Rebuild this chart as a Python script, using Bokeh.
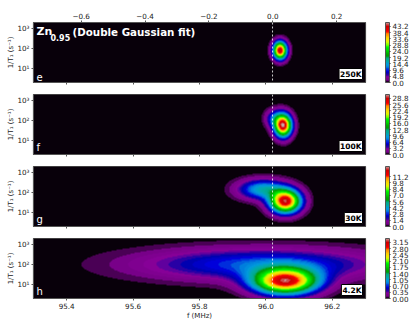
import numpy as np
from bokeh.embed import file_html
from bokeh.resources import INLINE
from bokeh.layouts import column
from bokeh.models import (AllLabels, ColorBar, FixedTicker, Label, LinearAxis, LinearColorMapper,
                          PrintfTickFormatter, Range1d, Span)
from bokeh.plotting import figure

# Values
panel_letters = ["e", "f", "g", "h"]
temperatures = ["250K", "100K", "30K", "4.2K"]
# colour-bar tick step of each panel and its number format
cbar_steps = [4.8, 3.2, 1.4, 0.35]
cbar_counts = [10, 10, 9, 10]
cbar_formats = ["%.1f", "%.1f", "%.1f", "%.2f"]
# double Gaussian components: amplitude, f centre (MHz), log10(1/T1) centre, f width, log10 width
comp_main = [
    (44.0, 96.043, 1.90, 0.0138, 0.296),
    (30.0, 96.052, 1.75, 0.0175, 0.380),
    (12.7, 96.059, 1.55, 0.0310, 0.390),
    (3.05, 96.059, 1.15, 0.0660, 0.440),
]
comp_second = [
    (0.0, 96.043, 1.90, 0.0138, 0.296),
    (6.0, 96.025, 2.10, 0.0180, 0.300),
    (4.5, 95.990, 2.15, 0.0490, 0.340),
    (0.80, 95.985, 2.00, 0.2450, 0.550),
]
x_ticks = [95.4, 95.6, 95.8, 96.0, 96.2]
x_tick_labels = {95.4: "95.4", 95.6: "95.6", 95.8: "95.8", 96.0: "96.0", 96.2: "96.2"}
k_ticks = [-0.6, -0.4, -0.2, 0.0, 0.2]
k_tick_labels = {-0.6: "−0.6", -0.4: "−0.4", -0.2: "−0.2", 0.0: "0.0", 0.2: "0.2"}
y_ticks = [10, 100, 1000]
y_tick_labels = {10: "10¹", 100: "10²", 1000: "10³"}
dotted_f = 96.02

ANCH = [(0,0,0),(.4667,0,.5333),(.5333,0,.6),(0,0,.6667),(0,0,.8667),(0,.4667,.8667),(0,.6,.8667),
        (0,.6667,.6667),(0,.6667,.5333),(0,.6,0),(0,.7333,0),(0,.8667,0),(0,1,0),(.7333,1,0),
        (.9333,.9333,0),(1,.8,0),(1,.6,0),(1,0,0),(.8667,0,0),(.8,0,0),(.8,.8,.8)]

def spectral(n):
    a = np.array(ANCH)
    t = (np.arange(n) + 0.5) / n
    pos = np.linspace(0, 1, len(ANCH))
    rgb = np.stack([np.interp(t, pos, a[:, i]) for i in range(3)], axis=1)
    return ["#%02x%02x%02x" % tuple(int(round(c * 255)) for c in row) for row in rgb]

N_LEV = 48
PAL = spectral(N_LEV)
PAL[0] = "#08000a"
FX = np.linspace(95.3, 96.3, 996)
FY = np.linspace(np.log10(2), np.log10(2000), 240)
XX, YY = np.meshgrid(FX, FY)

def gauss(c):
    a, x0, y0, sx, sy = c
    return a * np.exp(-((XX - x0) ** 2) / (2 * sx ** 2) - ((YY - y0) ** 2) / (2 * sy ** 2))

TXT = "7.2px"
GREY = "#555555"
tops = [22, 6, 6, 6]
bottoms = [6, 6, 6, 24]
figs = []
for i in range(4):
    last = i == 3
    p = figure(output_backend="svg", toolbar_location=None, y_axis_type="log",
               x_range=Range1d(95.3, 96.3), y_range=Range1d(2, 2000),
               frame_width=332, frame_height=60, width=415, height=60 + tops[i] + bottoms[i],
               min_border_left=33, min_border_right=50, min_border_top=tops[i], min_border_bottom=bottoms[i],
               background_fill_color="black", outline_line_color=GREY, outline_line_width=1.2,
               border_fill_color="white")
    p.grid.visible = False
    p.xaxis.ticker = FixedTicker(ticks=x_ticks)
    p.yaxis.ticker = FixedTicker(ticks=y_ticks)
    p.yaxis.major_label_overrides = y_tick_labels
    p.yaxis.major_label_policy = AllLabels()
    p.yaxis.axis_label = "1/T₁ (s⁻¹)"
    p.yaxis.axis_label_text_font_size = "7px"
    p.yaxis.axis_label_text_font_style = "normal"
    p.yaxis.axis_label_text_color = "#222222"
    p.yaxis.axis_label_standoff = -1
    for ax in (p.xaxis[0], p.yaxis[0]):
        ax.major_label_text_font = "DejaVu Sans"
        ax.axis_label_text_font = "DejaVu Sans"
        ax.major_label_text_font_size = TXT
        ax.major_label_text_color = "#222222"
        ax.major_label_standoff = 2
        ax.major_tick_out = 2
        ax.major_tick_in = 0
        ax.minor_tick_out = 0
        ax.minor_tick_in = 0
        ax.major_tick_line_color = GREY
        ax.axis_line_color = GREY
    if last:
        p.xaxis.major_label_overrides = x_tick_labels
        p.xaxis.axis_label = "f (MHz)"
        p.xaxis.axis_label_text_font_size = "7px"
        p.xaxis.axis_label_text_font_style = "normal"
        p.xaxis.axis_label_text_color = "#222222"
        p.xaxis.axis_label_standoff = 0
    else:
        p.xaxis.major_label_overrides = {t: "" for t in x_ticks}
        p.xaxis.major_label_text_font_size = "1px"
        p.xaxis.major_label_standoff = 0

    step = cbar_steps[i] / 5
    Z = gauss(comp_main[i]) + gauss(comp_second[i])
    mapper = LinearColorMapper(palette=PAL, low=0, high=step * N_LEV, high_color=PAL[-1], low_color=PAL[0])
    p.image(image=[Z], x=95.3, y=2, dw=1.0, dh=1998, color_mapper=mapper)
    p.add_layout(Span(location=dotted_f, dimension="height", line_color="white",
                      line_dash="2 2", line_width=1, line_alpha=0.8))
    p.add_layout(Label(x=3, y=2, x_units="screen", y_units="screen", text=panel_letters[i],
                       text_color="white", text_font="DejaVu Sans", text_font_size="10px"))
    p.add_layout(Label(x=329, y=3, x_units="screen", y_units="screen", text=temperatures[i],
                       text_align="right", text_color="black", text_font="DejaVu Sans",
                       text_font_size="7.5px", text_font_style="bold",
                       background_fill_color="white", border_line_color="black", border_line_width=1,
                       padding=1))
    ticks = [k * cbar_steps[i] for k in range(cbar_counts[i])]
    cb = ColorBar(color_mapper=mapper, ticker=FixedTicker(ticks=ticks),
                  formatter=PrintfTickFormatter(format=cbar_formats[i]),
                  major_label_policy=AllLabels(),
                  width=4, height=60, margin=0, padding=0, location=(20, 0),
                  major_label_text_font="DejaVu Sans", major_label_text_font_size=TXT,
                  major_label_text_color="#222222", label_standoff=2,
                  major_tick_in=0, major_tick_out=1, major_tick_line_color="#333333",
                  bar_line_color=GREY, minor_tick_line_color=None)
    p.add_layout(cb, "right")
    if i == 0:
        p.extra_x_ranges = {"k": Range1d(-0.749, 0.290)}
        top = LinearAxis(x_range_name="k", ticker=FixedTicker(ticks=k_ticks),
                         major_label_overrides=k_tick_labels,
                         major_label_text_font="DejaVu Sans", major_label_text_font_size=TXT,
                         major_label_text_color="#222222", major_label_standoff=2,
                         major_tick_out=2, major_tick_in=0, minor_tick_out=0, minor_tick_in=0,
                         major_tick_line_color=GREY, axis_line_color=GREY)
        p.add_layout(top, "above")
        p.add_layout(Label(x=166, y=71, x_units="screen", y_units="screen", text="¹⁹K (%)",
                           text_align="center", text_color="#222222", text_font="DejaVu Sans",
                           text_font_size="6.5px"))
        p.add_layout(Label(x=3, y=45, x_units="screen", y_units="screen", text="Zn",
                           text_color="white", text_font="DejaVu Sans", text_font_size="11px",
                           text_font_style="bold"))
        p.add_layout(Label(x=17, y=42, x_units="screen", y_units="screen", text="0.95",
                           text_color="white", text_font="DejaVu Sans", text_font_size="8px",
                           text_font_style="bold"))
        p.add_layout(Label(x=39, y=45, x_units="screen", y_units="screen", text="(Double Gaussian fit)",
                           text_color="white", text_font="DejaVu Sans", text_font_size="10.3px",
                           text_font_style="bold"))
    figs.append(p)

layout = column(*figs, spacing=0, styles={"position": "absolute", "left": "0px", "top": "0px"})
open("out.html", "w").write(file_html(layout, INLINE))
